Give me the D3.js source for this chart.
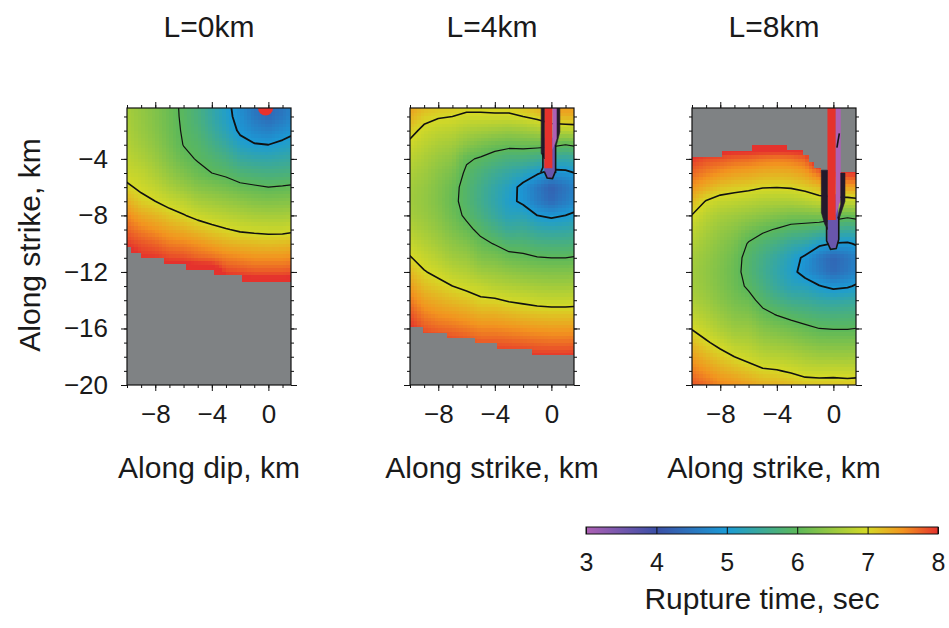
<!DOCTYPE html>
<html>
<head>
<meta charset="utf-8">
<title>Rupture time maps</title>
<script src="https://d3js.org/d3.v7.min.js"></script>
<style>
  body { margin: 0; background: #fff; }
  text { font-family: "Liberation Sans", Arial, sans-serif; fill: #1a1a1a; }
</style>
</head>
<body>
<svg id="chart" width="949" height="628"></svg>
<script>

// ---- data ----
var panelTitles = ["L=0km", "L=4km", "L=8km"];
var xTitles = ["Along dip, km", "Along strike, km", "Along strike, km"];
var yTitle = "Along strike, km";
var colorTitle = "Rupture time, sec";

var xMajorTicks = [-8, -4, 0];
var yMajorTicks = [-20, -16, -12, -8, -4];
var timeTicks = [3, 4, 5, 6, 7, 8];
var contourLevels = [5, 6, 7];

// colour table of the time scale
var colorStops = [3, 4, 5, 6, 7, 7.5, 8];
var colorHex = ["#ae60b4", "#3b4fa6", "#1b9bd6", "#5cb85a", "#d5d926", "#f2941f", "#e5322d"];

// grid nodes (km) : one column of times per x node, top (y=0) to bottom (y=-20)
var gridX = d3.range(-10, 3);      // -10 .. 2
var gridY = d3.range(0, -21, -1);  // 0 .. -20
var _ = null;                      // not ruptured (grey)

var timesL0 = [
  [6.6, 6.62, 6.66, 6.72, 6.8, 6.9, 7.05, 7.3, 7.55, 7.75, 7.95, _, _, _, _, _, _, _, _, _, _],
  [6.45, 6.47, 6.5, 6.57, 6.68, 6.82, 6.94, 7.09, 7.35, 7.6, 7.83, 8.0, _, _, _, _, _, _, _, _, _],
  [6.3, 6.32, 6.35, 6.42, 6.52, 6.66, 6.83, 7.0, 7.25, 7.5, 7.75, 7.98, _, _, _, _, _, _, _, _, _],
  [6.12, 6.13, 6.15, 6.2, 6.3, 6.45, 6.65, 6.88, 7.12, 7.38, 7.62, 7.88, _, _, _, _, _, _, _, _, _],
  [5.93, 5.94, 5.96, 5.99, 6.1, 6.28, 6.5, 6.78, 7.02, 7.3, 7.58, 7.85, _, _, _, _, _, _, _, _, _],
  [5.7, 5.72, 5.8, 5.9, 5.97, 6.12, 6.35, 6.62, 6.9, 7.2, 7.5, 7.75, _, _, _, _, _, _, _, _, _],
  [5.4, 5.42, 5.52, 5.68, 5.85, 6.0, 6.28, 6.55, 6.82, 7.1, 7.4, 7.7, _, _, _, _, _, _, _, _, _],
  [5.1, 5.13, 5.25, 5.45, 5.7, 5.92, 6.2, 6.48, 6.75, 7.02, 7.3, 7.6, 7.9, _, _, _, _, _, _, _, _],
  [4.8, 4.85, 4.93, 5.15, 5.45, 5.78, 6.1, 6.4, 6.68, 6.95, 7.25, 7.55, 7.85, _, _, _, _, _, _, _, _],
  [4.5, 4.55, 4.75, 5.03, 5.37, 5.72, 6.05, 6.33, 6.62, 6.92, 7.22, 7.5, 7.8, _, _, _, _, _, _, _, _],
  [4.3, 4.35, 4.65, 5.0, 5.35, 5.68, 6.0, 6.3, 6.6, 6.9, 7.2, 7.5, 7.8, _, _, _, _, _, _, _, _],
  [4.5, 4.55, 4.8, 5.1, 5.4, 5.7, 6.03, 6.32, 6.6, 6.9, 7.22, 7.5, 7.8, _, _, _, _, _, _, _, _],
  [4.75, 4.8, 4.95, 5.2, 5.45, 5.75, 6.07, 6.35, 6.65, 6.95, 7.25, 7.55, 7.85, _, _, _, _, _, _, _, _]
];

var timesL4 = [
  [7.5, 7.3, 7.1, 6.93, 6.78, 6.66, 6.58, 6.56, 6.6, 6.72, 6.87, 7.02, 7.22, 7.42, 7.62, 7.82, 8.0, _, _, _, _],
  [7.3, 7.1, 6.92, 6.78, 6.65, 6.55, 6.48, 6.46, 6.5, 6.6, 6.73, 6.88, 7.02, 7.2, 7.4, 7.6, 7.8, 8.0, _, _, _],
  [7.22, 7.03, 6.82, 6.65, 6.5, 6.38, 6.31, 6.3, 6.35, 6.45, 6.58, 6.74, 6.92, 7.1, 7.3, 7.5, 7.72, 7.95, _, _, _],
  [7.2, 7.0, 6.78, 6.58, 6.4, 6.24, 6.13, 6.1, 6.15, 6.27, 6.42, 6.58, 6.78, 7.0, 7.22, 7.45, 7.68, 7.92, _, _, _],
  [7.12, 6.95, 6.65, 6.38, 6.05, 5.93, 5.86, 5.86, 5.93, 6.1, 6.3, 6.5, 6.7, 6.92, 7.15, 7.38, 7.62, 7.86, _, _, _],
  [7.12, 6.95, 6.6, 6.25, 5.96, 5.74, 5.62, 5.6, 5.7, 5.9, 6.1, 6.3, 6.55, 6.85, 7.05, 7.3, 7.55, 7.8, 8.02, _, _],
  [7.15, 6.95, 6.55, 6.15, 5.83, 5.55, 5.38, 5.35, 5.45, 5.7, 5.98, 6.25, 6.5, 6.75, 7.04, 7.3, 7.55, 7.8, 8.02, _, _],
  [7.15, 6.95, 6.5, 6.1, 5.72, 5.4, 5.17, 5.1, 5.22, 5.5, 5.83, 6.13, 6.42, 6.7, 6.97, 7.25, 7.52, 7.78, 8.0, _, _],
  [7.25, 7.0, 6.55, 6.12, 5.7, 5.25, 4.88, 4.92, 5.25, 5.55, 5.82, 6.08, 6.36, 6.65, 6.93, 7.2, 7.48, 7.75, 8.0, _, _],
  [7.4, 7.1, 6.62, 6.12, 5.6, 5.05, 4.55, 4.6, 5.0, 5.4, 5.72, 6.02, 6.32, 6.6, 6.88, 7.17, 7.45, 7.72, 7.98, _, _],
  [7.6, 7.25, 6.75, 6.1, 5.45, 4.85, 4.25, 4.35, 4.92, 5.35, 5.7, 6.0, 6.3, 6.58, 6.86, 7.15, 7.43, 7.7, 7.98, _, _],
  [7.55, 7.3, 6.75, 6.0, 5.4, 4.9, 4.5, 4.6, 5.0, 5.38, 5.7, 6.0, 6.3, 6.58, 6.86, 7.15, 7.43, 7.7, 7.98, _, _],
  [7.55, 7.3, 6.8, 6.1, 5.5, 5.05, 4.75, 4.8, 5.12, 5.45, 5.75, 6.04, 6.32, 6.6, 6.88, 7.16, 7.44, 7.72, 8.0, _, _]
];

var timesL8 = [
  [_, _, _, _, 7.96, 7.72, 7.48, 7.23, 6.99, 6.82, 6.7, 6.6, 6.56, 6.58, 6.66, 6.8, 6.98, 7.2, 7.42, 7.62, 7.82],
  [_, _, _, _, 7.85, 7.6, 7.32, 6.98, 6.78, 6.64, 6.54, 6.47, 6.44, 6.46, 6.54, 6.67, 6.84, 7.04, 7.26, 7.48, 7.7],
  [_, _, _, _, 7.82, 7.5, 7.18, 6.86, 6.63, 6.48, 6.38, 6.31, 6.28, 6.3, 6.37, 6.5, 6.66, 6.9, 7.12, 7.34, 7.56],
  [_, _, _, _, 7.75, 7.42, 7.12, 6.82, 6.56, 6.38, 6.24, 6.15, 6.12, 6.14, 6.22, 6.35, 6.52, 6.74, 7.0, 7.25, 7.5],
  [_, _, _, _, 7.72, 7.38, 7.08, 6.76, 6.48, 6.2, 5.97, 5.87, 5.86, 5.94, 6.12, 6.3, 6.5, 6.7, 6.9, 7.15, 7.4],
  [_, _, _, _, 7.65, 7.32, 7.02, 6.7, 6.4, 6.07, 5.8, 5.64, 5.6, 5.7, 5.88, 6.1, 6.33, 6.55, 6.78, 7.05, 7.3],
  [_, _, _, _, 7.62, 7.3, 7.01, 6.68, 6.32, 5.97, 5.65, 5.42, 5.36, 5.45, 5.7, 5.98, 6.25, 6.5, 6.75, 7.02, 7.28],
  [_, _, _, _, 7.65, 7.32, 7.03, 6.68, 6.25, 5.85, 5.45, 5.18, 5.12, 5.25, 5.55, 5.88, 6.17, 6.44, 6.7, 6.96, 7.22],
  [_, _, _, _, 7.75, 7.42, 7.1, 6.75, 6.25, 5.8, 5.35, 4.92, 4.85, 5.2, 5.5, 5.8, 6.08, 6.35, 6.62, 6.88, 7.15],
  [_, _, _, _, _, 7.7, 7.22, 6.85, 6.28, 5.7, 5.1, 4.55, 4.6, 5.02, 5.4, 5.72, 6.0, 6.28, 6.56, 6.86, 7.14],
  [_, _, _, _, _, 7.85, 7.35, 6.85, 6.2, 5.6, 4.98, 4.3, 4.35, 4.9, 5.35, 5.7, 5.98, 6.27, 6.55, 6.87, 7.14],
  [_, _, _, _, _, 7.95, 7.4, 6.85, 6.1, 5.5, 4.95, 4.5, 4.55, 4.95, 5.4, 5.72, 5.98, 6.27, 6.55, 6.85, 7.13],
  [_, _, _, _, _, 8.0, 7.45, 6.9, 6.2, 5.6, 5.1, 4.75, 4.8, 5.1, 5.45, 5.75, 6.02, 6.3, 6.58, 6.87, 7.15]
];

// rupture front (edge of grey area): steps start at x, front at y
var frontXL0 = [-10, -9.74, -9.03, -7.38, -5.85, -3.84, -1.84];
var frontYL0 = [-10.21, -10.68, -11.04, -11.44, -11.86, -12.22, -12.69];
var frontXL4 = [-10, -9.05, -7.4, -5.4, -3.87, -1.39];
var frontYL4 = [-15.87, -16.3, -16.7, -17.05, -17.48, -17.88];
var frontXL8 = [-10, -7.88, -5.75, -3.28, -2.16, -1.69, -1.34, -0.87];
var frontYL8 = [-3.84, -3.44, -3.02, -3.4, -3.72, -4.2, -4.66, -4.95];

// narrow early/late strips along x = 0 (time, outline in km)
var stripsL4 = [
  { t: 3.6, pts: [[-0.5, -2.5], [0.28, -2.5], [0.28, -4.9], [0.08, -5.4], [-0.3, -5.35], [-0.5, -4.9]] },
  { t: 8, pts: [[-0.5, 0], [0.07, 0], [0.07, -4.66], [-0.5, -4.66]] },
  { t: 3, pts: [[0.07, 0], [0.4, 0], [0.4, -2.55], [0.07, -3.35]] }
];
// dense contour bundles (dark bands) beside the strips
var darkL4 = [
  [[-0.72, 0], [-0.5, 0], [-0.5, -4.0], [-0.72, -3.6]],
  [[0.4, 0], [0.6, 0], [0.6, -2.1], [0.36, -3.0], [0.28, -3.0], [0.4, -2.55]]
];
var edgesL4 = [
  [[-0.6, -3.6], [-0.6, -4.6], [-0.75, -4.95]],
  [[0.3, -3.0], [0.3, -5.0]],
  [[-0.5, -4.9], [-0.3, -5.35], [0.08, -5.4], [0.28, -4.9]]
];
var stripsL8 = [
  { t: 3.6, pts: [[-0.42, -6.5], [0.35, -6.5], [0.35, -9.7], [0.2, -10.3], [-0.2, -10.35], [-0.42, -9.8]] },
  { t: 8, pts: [[-0.42, 0], [0.17, 0], [0.17, -8.32], [-0.42, -8.32]] },
  { t: 3, pts: [[0.17, 0], [0.52, 0], [0.52, -6.9], [0.17, -7.97]] }
];
var darkL8 = [
  [[-0.85, -4.8], [-0.42, -4.8], [-0.42, -9.0], [-0.62, -8.6], [-0.85, -7.8]],
  [[0.52, -5.0], [0.82, -5.0], [0.82, -7.0], [0.42, -8.2], [0.3, -8.2], [0.52, -7.2]]
];
var edgesL8 = [
  [[-0.48, -8.8], [-0.48, -9.8], [-0.2, -10.4], [0.2, -10.35], [0.38, -9.7], [0.38, -8.1]],
  [[0.42, -2.2], [0.25, -3.2]]
];
var hypoL0 = [-0.2, -0.4];

// ---- layout ----
var svg = d3.select("#chart");
var defs = svg.append("defs");
var panelLeft = [127, 410, 692], panelW = 164;
var plotTop = 108, plotBottom = 385, plotH = plotBottom - plotTop;
var FRONT_FILL = 8.3;   // used for grey nodes when smoothing the field
var CELL = 0.25;        // size of the model cells shown in the image, km
var grey = d3.rgb("#7f8284");

var y = d3.scaleLinear().domain([-20, -0.4]).range([plotBottom, plotTop]);
var color = d3.scaleLinear().domain(colorStops).range(colorHex).clamp(true);
var contourWidth = { 5: 1.8, 6: 1.2, 7: 1.6 };

var panels = [
  { times: timesL0, fx: frontXL0, fy: frontYL0, below: true, strips: [], dark: [], edges: [], hypo: hypoL0 },
  { times: timesL4, fx: frontXL4, fy: frontYL4, below: true, strips: stripsL4, dark: darkL4, edges: edgesL4 },
  { times: timesL8, fx: frontXL8, fy: frontYL8, below: false, strips: stripsL8, dark: darkL8, edges: edgesL8 }
];

function nodeValue(times, c, r) {
  var v = times[c][r];
  return v == null ? FRONT_FILL : v;
}

function fieldAt(times, xk, yk) {
  var fc = (xk - gridX[0]) / (gridX[1] - gridX[0]);
  var fr = (gridY[0] - yk) / (gridY[0] - gridY[1]);
  var c0 = Math.max(0, Math.min(gridX.length - 2, Math.floor(fc)));
  var r0 = Math.max(0, Math.min(gridY.length - 2, Math.floor(fr)));
  var tx = fc - c0, ty = fr - r0;
  return (1 - tx) * (1 - ty) * nodeValue(times, c0, r0) + tx * (1 - ty) * nodeValue(times, c0 + 1, r0) +
         (1 - tx) * ty * nodeValue(times, c0, r0 + 1) + tx * ty * nodeValue(times, c0 + 1, r0 + 1);
}

function isGrey(p, xk, yk) {
  var k = Math.max(0, d3.bisectRight(p.fx, xk) - 1);
  return p.below ? yk < p.fy[k] : yk > p.fy[k];
}

var line = d3.line();

panels.forEach(function(p, i) {
  var left = panelLeft[i];
  var x = d3.scaleLinear().domain([-10, 1.6]).range([left, left + panelW]);
  var g = svg.append("g");
  var toXY = function(q) { return [x(q[0]), y(q[1])]; };

  defs.append("clipPath").attr("id", "clip" + i)
    .append("rect").attr("x", left).attr("y", plotTop).attr("width", panelW).attr("height", plotH);
  var plot = g.append("g").attr("clip-path", "url(#clip" + i + ")");

  // colour field, shown cell by cell like the model output
  var canvas = document.createElement("canvas");
  canvas.width = panelW; canvas.height = plotH;
  var ctx = canvas.getContext("2d");
  var img = ctx.createImageData(panelW, plotH);
  for (var j = 0; j < plotH; j++) {
    for (var k = 0; k < panelW; k++) {
      var xk = x.invert(left + k + 0.5), yk = y.invert(plotTop + j + 0.5);
      var xc = -10 + (Math.floor((xk + 10) / CELL) + 0.5) * CELL;
      var yc = -20 + (Math.floor((yk + 20) / CELL) + 0.5) * CELL;
      var c = isGrey(p, xk, yk) ? grey : d3.rgb(color(fieldAt(p.times, xc, yc)));
      var o = (j * panelW + k) * 4;
      img.data[o] = c.r; img.data[o + 1] = c.g; img.data[o + 2] = c.b; img.data[o + 3] = 255;
    }
  }
  ctx.putImageData(img, 0, 0);
  plot.append("image").attr("href", canvas.toDataURL())
    .attr("x", left).attr("y", plotTop).attr("width", panelW).attr("height", plotH)
    .attr("preserveAspectRatio", "none");

  // contour lines
  var values = [];
  gridY.forEach(function(_, r) { gridX.forEach(function(_, c) { values.push(nodeValue(p.times, c, r)); }); });
  var contours = d3.contours().size([gridX.length, gridY.length]).thresholds(contourLevels)(values);
  var toScreen = d3.geoTransform({
    point: function(cx, cy) {
      this.stream.point(x(gridX[0] + (cx - 0.5)), y(gridY[0] - (cy - 0.5)));
    }
  });
  plot.selectAll("path.contour").data(contours).join("path")
    .attr("class", "contour")
    .attr("d", d3.geoPath(toScreen))
    .attr("fill", "none").attr("stroke", "#111")
    .attr("stroke-width", function(d) { return contourWidth[d.value]; })
    .attr("stroke-linejoin", "round");

  // strips, the dark contour bundles and outlines beside them
  plot.selectAll("path.strip").data(p.strips).join("path")
    .attr("class", "strip")
    .attr("d", function(d) { return line(d.pts.map(toXY)) + "Z"; })
    .attr("fill", function(d) { return color(d.t); });
  plot.selectAll("path.dark").data(p.dark).join("path")
    .attr("class", "dark")
    .attr("d", function(d) { return line(d.map(toXY)) + "Z"; })
    .attr("fill", "#231a2c").attr("stroke", "#231a2c").attr("stroke-width", 0.6);
  plot.selectAll("path.edge").data(p.edges).join("path")
    .attr("class", "edge")
    .attr("d", function(d) { return line(d.map(toXY)); })
    .attr("fill", "none").attr("stroke", "#151515").attr("stroke-width", 1.6);

  if (p.hypo) {
    plot.append("circle").attr("cx", x(p.hypo[0])).attr("cy", y(p.hypo[1])).attr("r", 7.5)
      .attr("fill", "#e8312e");
  }

  // ticks on all four sides
  var minorX = d3.range(-10, 2), minorY = d3.range(-20, 0);
  function axis(a, scale, vals, size, tx, ty, labels, pad) {
    var ax = a(scale).tickValues(vals).tickSize(size).tickSizeOuter(0).tickPadding(pad || 3)
      .tickFormat(labels ? d3.format("d") : "");
    var ga = g.append("g").attr("transform", "translate(" + tx + "," + ty + ")").call(ax);
    ga.select(".domain").remove();
    ga.attr("font-size", 26).attr("font-family", null).attr("color", "#111");
    return ga;
  }
  axis(d3.axisBottom, x, minorX, 3, 0, plotBottom);
  axis(d3.axisBottom, x, xMajorTicks, 6, 0, plotBottom, true, 14);
  axis(d3.axisTop, x, minorX, 3, 0, plotTop);
  axis(d3.axisTop, x, xMajorTicks, 6, 0, plotTop);
  axis(d3.axisLeft, y, minorY, 3, left, 0);
  axis(d3.axisLeft, y, yMajorTicks, 6, left, 0, i === 0, 13);
  axis(d3.axisRight, y, minorY, 3, left + panelW, 0);
  axis(d3.axisRight, y, yMajorTicks, 6, left + panelW, 0);

  g.append("rect").attr("x", left).attr("y", plotTop).attr("width", panelW).attr("height", plotH)
    .attr("fill", "none").attr("stroke", "#111").attr("stroke-width", 1.2);

  g.append("text").attr("x", left + panelW / 2).attr("y", 37).attr("text-anchor", "middle")
    .attr("font-size", 30).text(panelTitles[i]);
  g.append("text").attr("x", left + panelW / 2).attr("y", 478).attr("text-anchor", "middle")
    .attr("font-size", 30).text(xTitles[i]);
});

svg.append("text").attr("transform", "translate(40,245) rotate(-90)")
  .attr("text-anchor", "middle").attr("font-size", 30).text(yTitle);

// ---- colour bar ----
var cbx = d3.scaleLinear().domain([3, 8]).range([586, 938]);
var cbTop = 527, cbH = 7;
var grad = defs.append("linearGradient").attr("id", "cbgrad");
grad.selectAll("stop").data(colorStops).join("stop")
  .attr("offset", function(d) { return (d - 3) / 5; })
  .attr("stop-color", function(d) { return color(d); });
svg.append("rect").attr("x", cbx(3)).attr("y", cbTop).attr("width", cbx(8) - cbx(3)).attr("height", cbH)
  .attr("fill", "url(#cbgrad)").attr("stroke", "#111").attr("stroke-width", 1);
var cbAxis = svg.append("g").attr("transform", "translate(0," + (cbTop + cbH) + ")")
  .call(d3.axisBottom(cbx).tickValues(timeTicks).tickSize(-cbH).tickSizeOuter(0).tickPadding(19).tickFormat(d3.format("d")));
cbAxis.select(".domain").remove();
cbAxis.attr("font-size", 25).attr("font-family", null).attr("color", "#111");
svg.append("text").attr("x", (cbx(3) + cbx(8)) / 2).attr("y", 609).attr("text-anchor", "middle")
  .attr("font-size", 30).text(colorTitle);

</script>
</body>
</html>
